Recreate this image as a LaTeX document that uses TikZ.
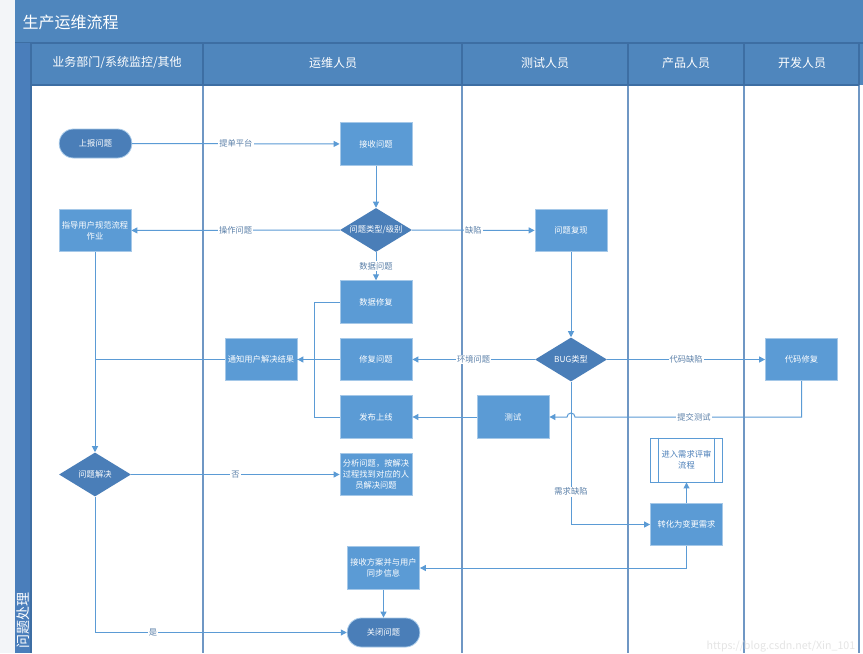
\documentclass[tikz,border=0pt]{standalone}
\usepackage{fontspec}
\setmainfont{Noto Sans CJK SC}
\usetikzlibrary{shapes.geometric,arrows.meta,positioning,calc}
\definecolor{titleblue}{HTML}{4F86BD}
\definecolor{hdrline}{HTML}{3D6EA3}
\definecolor{poolblue}{HTML}{4A7EBB}
\definecolor{procblue}{HTML}{5B9BD5}
\definecolor{decblue}{HTML}{4A7EB8}
\definecolor{lanecol}{HTML}{6F97C4}
\definecolor{linecol}{HTML}{5B9BD5}
\definecolor{lblcol}{HTML}{5A7FA8}
\definecolor{sidegray}{HTML}{F3F5F8}
\tikzset{
  proc/.style={rectangle, fill=procblue, draw=procblue!55, line width=0.6pt,
    minimum width=54pt, minimum height=32pt, inner sep=1pt, text=white,
    font=\fontsize{6.2}{8.5}\selectfont, align=center},
  dec/.style={diamond, fill=decblue, draw=none, minimum width=54pt, minimum height=33pt,
    inner sep=0pt, text=white, font=\fontsize{6.2}{8.5}\selectfont},
  term/.style={rectangle, rounded corners=10.8pt, fill=decblue, draw=procblue!55, line width=0.6pt,
    minimum width=54.5pt, minimum height=21.75pt, inner sep=1pt, text=white,
    font=\fontsize{6.2}{8.5}\selectfont},
  sub/.style={rectangle, fill=white, draw=procblue, line width=0.7pt,
    minimum width=54.5pt, minimum height=33pt, inner sep=1pt, text=decblue,
    font=\fontsize{6.2}{8.5}\selectfont, align=center},
  conn/.style={draw=linecol, line width=0.75pt},
  arr/.style={conn, -{Triangle[length=4.5pt,width=4.5pt]}},
  lbl/.style={fill=white, text=lblcol, inner sep=0.8pt, font=\fontsize{6.2}{8}\selectfont},
  lane/.style={draw=lanecol, line width=1pt},
  hdrtxt/.style={text=white, font=\fontsize{9}{11}\selectfont}
}
\begin{document}
\begin{tikzpicture}[x=0.75pt,y=-0.75pt]
\useasboundingbox (0,0) rectangle (863,653);
% background
\fill[sidegray] (0,0) rectangle (15,653);
\fill[white] (15,85) rectangle (863,653);
% title bar and header row
\fill[titleblue] (15,0) rectangle (863,85);
\draw[hdrline, line width=0.8pt] (15,43) -- (863,43);
\node[text=white, font=\fontsize{12}{14}\selectfont, anchor=west] (title) at (18,22) {生产运维流程};
% pool band
\fill[poolblue] (15,43) rectangle (31,653);
\draw[hdrline, line width=0.8pt] (31,43) -- (31,653);
\node[rotate=90, text=white, font=\fontsize{10.5}{12}\selectfont] (pool) at (23,620) {问题处理};
% header separators
\foreach \xx in {203,462,628,744,859}{
  \draw[hdrline, line width=0.8pt] (\xx,43) -- (\xx,85);
  \draw[lane] (\xx,85) -- (\xx,653);
}
\draw[hdrline, line width=0.8pt] (31,85) -- (859,85);
\node[hdrtxt] (h1) at (117,63) {业务部门/系统监控/其他};
\node[hdrtxt] (h2) at (333,63) {运维人员};
\node[hdrtxt] (h3) at (545,63) {测试人员};
\node[hdrtxt] (h4) at (686,63) {产品人员};
\node[hdrtxt] (h5) at (802,63) {开发人员};
% nodes
\node[term] (report) at (95.5,143.5) {上报问题};
\node[proc] (receive) at (376,144) {接收问题};
\node[dec] (type) at (376,230) {\makebox[0pt]{问题类型/级别}};
\node[proc] (guide) at (95,230.5) {指导用户规范流程\\作业};
\node[proc] (datafix) at (376,302) {数据修复};
\node[proc] (fix) at (376,359.5) {修复问题};
\node[proc] (release) at (376,417) {发布上线};
\node[proc] (notify) at (261,359.5) {通知用户解决结果};
\node[proc] (repro) at (571,230.5) {问题复现};
\node[dec] (bug) at (571,359.5) {\makebox[0pt]{BUG类型}};
\node[proc] (codefix) at (801.5,359.5) {代码修复};
\node[proc] (test) at (513,417) {测试};
\node[sub] (review) at (686.5,460) {进入需求评审\\流程};
\draw[procblue, line width=0.6pt] ([xshift=6.75pt]review.north west) -- ([xshift=6.75pt]review.south west);
\draw[procblue, line width=0.6pt] ([xshift=-6.75pt]review.north east) -- ([xshift=-6.75pt]review.south east);
\node[proc] (change) at (686.5,524.5) {转化为变更需求};
\node[dec] (solved) at (95,474.5) {\makebox[0pt]{问题解决}};
\node[proc] (analyze) at (376,474.5) {分析问题，按解决\\过程找到对应的人\\员解决问题};
\node[proc] (accept) at (383.5,568) {接收方案并与用户\\同步信息};
\node[term] (close) at (383.5,632.5) {关闭问题};
% connectors
\draw[arr] (report) -- node[lbl] (l1) {提单平台} (receive);
\draw[arr] (receive) -- (type);
\draw[arr] (type) -- node[lbl] (l2) {操作问题} (guide);
\draw[arr] (type) -- node[lbl] (l3) {缺陷} (repro);
\draw[arr] (type) -- node[lbl] (l4) {数据问题} (datafix);
\draw[arr] (repro) -- (bug);
\draw[arr] (bug) -- node[lbl] (l5) {环境问题} (fix);
\draw[arr] (bug) -- node[lbl] (l6) {代码缺陷} (codefix);
\coordinate (hopR) at (575,417);
\draw[arr] (codefix.south) |- (hopR) arc (0:-180:4) -- (test.east);
\node[lbl] (l7) at (694,417) {提交测试};
\draw[arr] (test) -- (release);
\draw[conn] (datafix.west) -- ++(-25,0) |- (notify.east);
\draw[conn] (release.west) -- ++(-25,0) |- (notify.east);
\draw[arr] (fix) -- (notify);
\draw[conn] (notify.west) -- (notify.west -| guide.south);
\draw[arr] (guide) -- (solved);
\draw[arr] (solved) -- node[lbl] (l8) {否} (analyze);
\draw[arr] (solved.south) |- node[lbl, pos=0.615] (l9) {是} (close.west);
\draw[arr] (bug.south) |- node[lbl, pos=0.385] (l10) {需求缺陷} (change.west);
\draw[arr] (change) -- (review);
\draw[arr] (change.south) |- (accept.east);
\draw[arr] (accept) -- (close);
% watermark
\node[anchor=west, text=black!10, font=\fontsize{8}{9}\selectfont] (wm) at (702,647) {https://blog.csdn.net/Xin\_101};
\end{tikzpicture}
\end{document}
